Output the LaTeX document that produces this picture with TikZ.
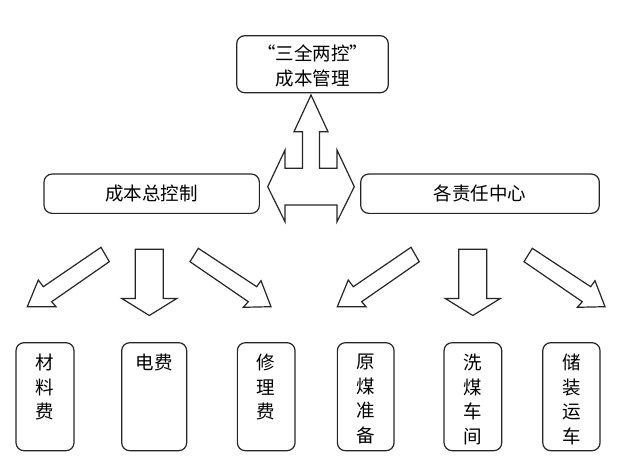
\documentclass[tikz,border=0pt]{standalone}
\usepackage{fontspec}
\newfontfamily\cjk{Noto Sans CJK SC}
\begin{document}
\begin{tikzpicture}[x=1pt,y=-1pt,
  box/.style={draw=black!85,line width=1.2pt,rounded corners=8pt,inner sep=0pt},
  cjkfont/.style={font=\cjk\fontsize{18.5}{25}\selectfont},
  vtxt/.style={cjkfont,align=center,inner sep=0pt,font=\cjk\fontsize{18.5}{24.5}\selectfont},
  bigarrow/.style={draw=black!85,line width=1.2pt,line join=miter,fill=white}]
\useasboundingbox (0,0) rectangle (641,460);
% top box
\node[box,minimum width=151.6pt,minimum height=57pt] (top) at (312.5,64.2) {};
\node[cjkfont,align=center,inner sep=0pt] (toptxt) at ([yshift=-2pt]top.center) {“三全两控”\\成本管理};
% middle boxes
\node[box,cjkfont,minimum width=215.3pt,minimum height=39.3pt] (left) at (151.7,193.7) {成本总控制};
\node[box,cjkfont,minimum width=238.6pt,minimum height=39.3pt] (right) at (480,193.7) {各责任中心};
% central arrow
\draw[bigarrow] (311,95) -- (328,131.7) -- (319.5,131.7) -- (319.5,168.3) -- (337,168.3) -- (337,150)
  -- (354.3,186.7) -- (337,221.7) -- (337,205) -- (285,205) -- (285,221.7) -- (267.7,186.7)
  -- (285,150) -- (285,168.3) -- (302.5,168.3) -- (302.5,131.7) -- (294,131.7) -- cycle;
% bottom boxes
\foreach \n/\cx/\w in {b1/45/58, b2/154.2/65, b3/266.2/57.7, b4/365.7/56.7, b5/472.9/57.7, b6/571.4/57.3}{
  \node[box,minimum width=\w pt,minimum height=108pt] (\n) at (\cx,396.7) {};
}
\node[vtxt,anchor=north] (t1) at ([yshift=-12pt]b1.north) {材\\料\\费};
\node[vtxt,anchor=north] (t2) at ([yshift=-12pt]b2.north) {电费};
\node[vtxt,anchor=north] (t3) at ([yshift=-12pt]b3.north) {修\\理\\费};
\node[vtxt,anchor=north] (t4) at ([yshift=-12pt]b4.north) {原\\煤\\准\\备};
\node[vtxt,anchor=north] (t5) at ([yshift=-12pt]b5.north) {洗\\煤\\车\\间};
\node[vtxt,anchor=north] (t6) at ([yshift=-12pt]b6.north) {储\\装\\运\\车};
% down-left arrows
\foreach \dx in {0,310}{
  \draw[bigarrow,shift={(\dx,0)}] (27.3,306.7) -- (56,306.7) -- (51.7,301.7) -- (109.3,261.7)
    -- (101,247.3) -- (43.3,286.7) -- (38.3,280) -- cycle;
}
% down arrows
\foreach \cx in {149.3,472.8}{
  \draw[bigarrow,shift={(\cx,0)}] (-14,249.3) -- (14,249.3) -- (14,298.5) -- (27.5,298.5)
    -- (0,315.5) -- (-27.5,298.5) -- (-14,298.5) -- cycle;
}
% down-right arrows
\foreach \dx in {0,334}{
  \draw[bigarrow,shift={(\dx,0)}] (198.3,248.3) -- (256.7,286.7) -- (261,280.7) -- (271,306.7)
    -- (243.3,307.3) -- (248.3,301.7) -- (190,261.7) -- cycle;
}
\end{tikzpicture}
\end{document}
